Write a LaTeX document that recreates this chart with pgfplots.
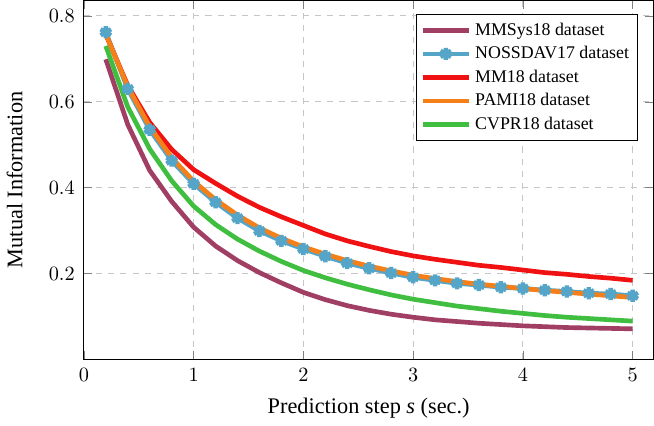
\documentclass[border=0pt]{standalone}
\usepackage{pgfplots}
\pgfplotsset{compat=1.18}
\usepackage{fontspec}
\setmainfont{Liberation Serif}
\definecolor{cmaroon}{RGB}{160,62,100}
\definecolor{cblue}{RGB}{84,165,200}
\definecolor{cred}{RGB}{240,18,18}
\definecolor{corange}{RGB}{245,128,25}
\definecolor{cgreen}{RGB}{64,190,64}
\begin{document}
\begin{tikzpicture}
\begin{axis}[
  scale only axis,
  width=281pt, height=177pt,
  xmin=0, xmax=5.19, ymin=0, ymax=0.836,
  xtick={0,1,2,3,4,5},
  ytick={0.2,0.4,0.6,0.8},
  yticklabel style={/pgf/number format/fixed,/pgf/number format/precision=1,/pgf/number format/fixed zerofill, xshift=-1pt},
  xticklabel style={yshift=-1pt},
  grid=major,
  grid style={dashed, gray!45, line width=0.5pt},
  xlabel={Prediction step \textit{s} (sec.)},
  ylabel={Mutual Information},
  label style={font=\fontsize{11}{13}\selectfont},
  xlabel style={yshift=-1.5pt},
  ylabel style={yshift=6pt},
  legend style={at={(0.972,0.962)}, anchor=north east, draw=black, font=\fontsize{8.8}{10.5}\selectfont, inner sep=2pt},
  legend cell align=left,
  legend image code/.code={\draw[mark repeat=2,mark phase=2,#1] plot coordinates {(0cm,0cm)(0.4cm,0cm)(0.8cm,0cm)};},
  every axis plot/.append style={line width=2.3pt},
]
\addplot[color=cmaroon, no marks] coordinates {
(0.2,0.699)(0.4,0.547)(0.6,0.440)(0.8,0.368)(1.0,0.308)(1.2,0.264)(1.4,0.230)(1.6,0.202)(1.8,0.178)(2.0,0.156)(2.2,0.139)(2.4,0.125)(2.6,0.114)(2.8,0.105)(3.0,0.098)(3.2,0.092)(3.4,0.088)(3.6,0.084)(3.8,0.081)(4.0,0.078)(4.2,0.076)(4.4,0.074)(4.6,0.073)(4.8,0.072)(5.0,0.071)};
\addlegendentry{MMSys18 dataset}
\addplot[color=cblue, mark=asterisk, mark size=3pt, mark options={line width=2.2pt}] coordinates {
(0.2,0.762)(0.4,0.630)(0.6,0.535)(0.8,0.463)(1.0,0.409)(1.2,0.366)(1.4,0.329)(1.6,0.299)(1.8,0.276)(2.0,0.257)(2.2,0.240)(2.4,0.224)(2.6,0.212)(2.8,0.201)(3.0,0.191)(3.2,0.184)(3.4,0.177)(3.6,0.173)(3.8,0.168)(4.0,0.165)(4.2,0.161)(4.4,0.158)(4.6,0.154)(4.8,0.152)(5.0,0.148)};
\addlegendentry{NOSSDAV17 dataset}
\addplot[color=cred, no marks] coordinates {
(0.2,0.757)(0.4,0.638)(0.6,0.552)(0.8,0.489)(1.0,0.442)(1.2,0.410)(1.4,0.380)(1.6,0.354)(1.8,0.332)(2.0,0.312)(2.2,0.292)(2.4,0.276)(2.6,0.263)(2.8,0.251)(3.0,0.241)(3.2,0.233)(3.4,0.226)(3.6,0.219)(3.8,0.214)(4.0,0.208)(4.2,0.202)(4.4,0.198)(4.6,0.193)(4.8,0.189)(5.0,0.184)};
\addlegendentry{MM18 dataset}
\addplot[color=corange, no marks] coordinates {
(0.2,0.758)(0.4,0.635)(0.6,0.542)(0.8,0.470)(1.0,0.415)(1.2,0.372)(1.4,0.336)(1.6,0.306)(1.8,0.282)(2.0,0.262)(2.2,0.245)(2.4,0.230)(2.6,0.217)(2.8,0.206)(3.0,0.196)(3.2,0.188)(3.4,0.181)(3.6,0.175)(3.8,0.170)(4.0,0.165)(4.2,0.160)(4.4,0.156)(4.6,0.152)(4.8,0.148)(5.0,0.144)};
\addlegendentry{PAMI18 dataset}
\addplot[color=cgreen, no marks] coordinates {
(0.2,0.730)(0.4,0.588)(0.6,0.490)(0.8,0.416)(1.0,0.357)(1.2,0.314)(1.4,0.280)(1.6,0.252)(1.8,0.228)(2.0,0.207)(2.2,0.190)(2.4,0.175)(2.6,0.162)(2.8,0.150)(3.0,0.140)(3.2,0.132)(3.4,0.124)(3.6,0.118)(3.8,0.112)(4.0,0.107)(4.2,0.102)(4.4,0.098)(4.6,0.095)(4.8,0.092)(5.0,0.089)};
\addlegendentry{CVPR18 dataset}
\end{axis}
\end{tikzpicture}
\end{document}
